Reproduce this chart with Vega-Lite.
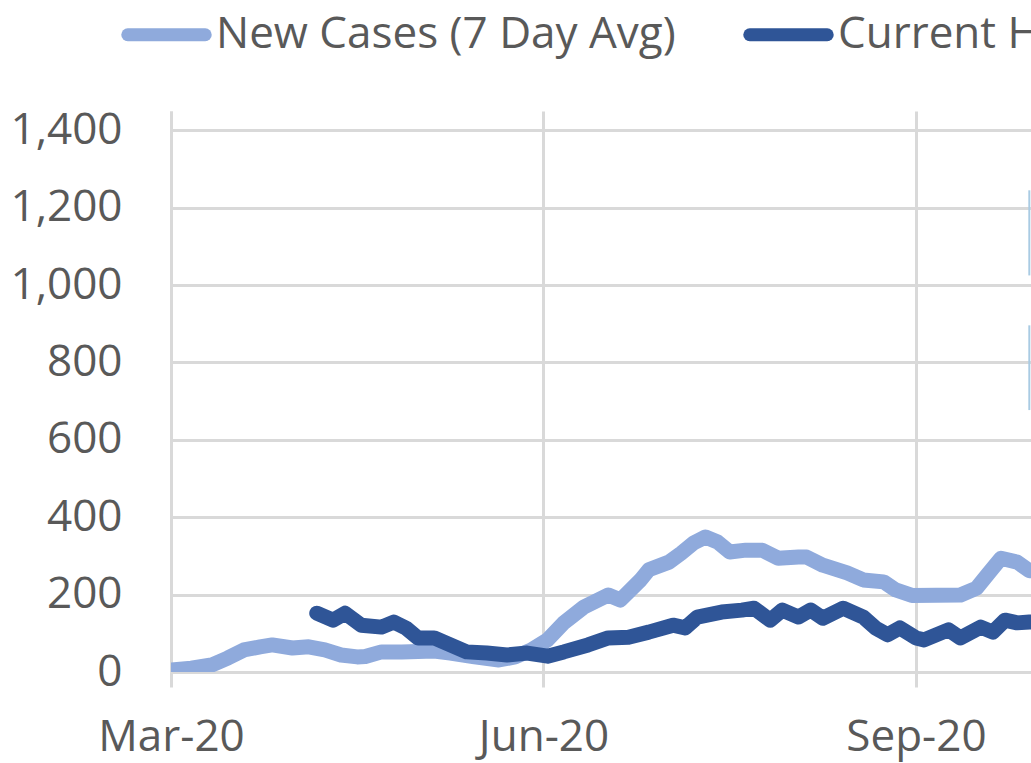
{
  "$schema": "https://vega.github.io/schema/vega-lite/v6.json",
  "autosize": "none",
  "width": 860,
  "height": 561,
  "padding": {"left": 171, "top": 111, "right": 0, "bottom": 91},
  "background": "white",
  "config": {
    "view": {"stroke": null},
    "font": "Open Sans",
    "axis": {"labelFont": "Open Sans", "labelColor": "#595959", "labelFontSize": 44, "gridColor": "#D9D9D9", "gridWidth": 3, "domainColor": "#D9D9D9", "domainWidth": 3, "tickColor": "#D9D9D9", "tickWidth": 3, "title": null},
    "legend": {"labelFont": "Open Sans", "labelColor": "#595959", "labelFontSize": 44}
  },
  "datasets": {
    "series": [
      {"date": "2020-03-01", "series": "New Cases (7 Day Avg)", "value": 5},
      {"date": "2020-03-06", "series": "New Cases (7 Day Avg)", "value": 10},
      {"date": "2020-03-11", "series": "New Cases (7 Day Avg)", "value": 18},
      {"date": "2020-03-15", "series": "New Cases (7 Day Avg)", "value": 36},
      {"date": "2020-03-19", "series": "New Cases (7 Day Avg)", "value": 57},
      {"date": "2020-03-23", "series": "New Cases (7 Day Avg)", "value": 65},
      {"date": "2020-03-26", "series": "New Cases (7 Day Avg)", "value": 70},
      {"date": "2020-03-31", "series": "New Cases (7 Day Avg)", "value": 62},
      {"date": "2020-04-04", "series": "New Cases (7 Day Avg)", "value": 65},
      {"date": "2020-04-08", "series": "New Cases (7 Day Avg)", "value": 57},
      {"date": "2020-04-12", "series": "New Cases (7 Day Avg)", "value": 44},
      {"date": "2020-04-16", "series": "New Cases (7 Day Avg)", "value": 39},
      {"date": "2020-04-18", "series": "New Cases (7 Day Avg)", "value": 40},
      {"date": "2020-04-22", "series": "New Cases (7 Day Avg)", "value": 52},
      {"date": "2020-04-27", "series": "New Cases (7 Day Avg)", "value": 52},
      {"date": "2020-05-05", "series": "New Cases (7 Day Avg)", "value": 54},
      {"date": "2020-05-09", "series": "New Cases (7 Day Avg)", "value": 49},
      {"date": "2020-05-15", "series": "New Cases (7 Day Avg)", "value": 39},
      {"date": "2020-05-21", "series": "New Cases (7 Day Avg)", "value": 31},
      {"date": "2020-05-25", "series": "New Cases (7 Day Avg)", "value": 39},
      {"date": "2020-05-29", "series": "New Cases (7 Day Avg)", "value": 57},
      {"date": "2020-06-02", "series": "New Cases (7 Day Avg)", "value": 83},
      {"date": "2020-06-06", "series": "New Cases (7 Day Avg)", "value": 127},
      {"date": "2020-06-11", "series": "New Cases (7 Day Avg)", "value": 168},
      {"date": "2020-06-17", "series": "New Cases (7 Day Avg)", "value": 199},
      {"date": "2020-06-20", "series": "New Cases (7 Day Avg)", "value": 186},
      {"date": "2020-06-25", "series": "New Cases (7 Day Avg)", "value": 238},
      {"date": "2020-06-27", "series": "New Cases (7 Day Avg)", "value": 264},
      {"date": "2020-07-02", "series": "New Cases (7 Day Avg)", "value": 284},
      {"date": "2020-07-05", "series": "New Cases (7 Day Avg)", "value": 307},
      {"date": "2020-07-08", "series": "New Cases (7 Day Avg)", "value": 333},
      {"date": "2020-07-11", "series": "New Cases (7 Day Avg)", "value": 349},
      {"date": "2020-07-14", "series": "New Cases (7 Day Avg)", "value": 336},
      {"date": "2020-07-17", "series": "New Cases (7 Day Avg)", "value": 310},
      {"date": "2020-07-21", "series": "New Cases (7 Day Avg)", "value": 315},
      {"date": "2020-07-25", "series": "New Cases (7 Day Avg)", "value": 315},
      {"date": "2020-07-29", "series": "New Cases (7 Day Avg)", "value": 294},
      {"date": "2020-08-03", "series": "New Cases (7 Day Avg)", "value": 297},
      {"date": "2020-08-05", "series": "New Cases (7 Day Avg)", "value": 297},
      {"date": "2020-08-09", "series": "New Cases (7 Day Avg)", "value": 276},
      {"date": "2020-08-15", "series": "New Cases (7 Day Avg)", "value": 256},
      {"date": "2020-08-19", "series": "New Cases (7 Day Avg)", "value": 238},
      {"date": "2020-08-24", "series": "New Cases (7 Day Avg)", "value": 233},
      {"date": "2020-08-27", "series": "New Cases (7 Day Avg)", "value": 212},
      {"date": "2020-08-31", "series": "New Cases (7 Day Avg)", "value": 198},
      {"date": "2020-09-12", "series": "New Cases (7 Day Avg)", "value": 199},
      {"date": "2020-09-16", "series": "New Cases (7 Day Avg)", "value": 217},
      {"date": "2020-09-19", "series": "New Cases (7 Day Avg)", "value": 256},
      {"date": "2020-09-22", "series": "New Cases (7 Day Avg)", "value": 294},
      {"date": "2020-09-26", "series": "New Cases (7 Day Avg)", "value": 284},
      {"date": "2020-09-29", "series": "New Cases (7 Day Avg)", "value": 262},
      {"date": "2020-10-02", "series": "New Cases (7 Day Avg)", "value": 262},
      {"date": "2020-04-06", "series": "Current Hospitalizations", "value": 152},
      {"date": "2020-04-10", "series": "Current Hospitalizations", "value": 134},
      {"date": "2020-04-13", "series": "Current Hospitalizations", "value": 152},
      {"date": "2020-04-17", "series": "Current Hospitalizations", "value": 121},
      {"date": "2020-04-22", "series": "Current Hospitalizations", "value": 116},
      {"date": "2020-04-25", "series": "Current Hospitalizations", "value": 129},
      {"date": "2020-04-28", "series": "Current Hospitalizations", "value": 114},
      {"date": "2020-05-01", "series": "Current Hospitalizations", "value": 88},
      {"date": "2020-05-05", "series": "Current Hospitalizations", "value": 88},
      {"date": "2020-05-09", "series": "Current Hospitalizations", "value": 70},
      {"date": "2020-05-13", "series": "Current Hospitalizations", "value": 52},
      {"date": "2020-05-18", "series": "Current Hospitalizations", "value": 49},
      {"date": "2020-05-23", "series": "Current Hospitalizations", "value": 44},
      {"date": "2020-05-28", "series": "Current Hospitalizations", "value": 49},
      {"date": "2020-06-02", "series": "Current Hospitalizations", "value": 41},
      {"date": "2020-06-06", "series": "Current Hospitalizations", "value": 52},
      {"date": "2020-06-12", "series": "Current Hospitalizations", "value": 70},
      {"date": "2020-06-17", "series": "Current Hospitalizations", "value": 88},
      {"date": "2020-06-22", "series": "Current Hospitalizations", "value": 90},
      {"date": "2020-06-27", "series": "Current Hospitalizations", "value": 103},
      {"date": "2020-07-03", "series": "Current Hospitalizations", "value": 121},
      {"date": "2020-07-06", "series": "Current Hospitalizations", "value": 114},
      {"date": "2020-07-09", "series": "Current Hospitalizations", "value": 142},
      {"date": "2020-07-15", "series": "Current Hospitalizations", "value": 155},
      {"date": "2020-07-20", "series": "Current Hospitalizations", "value": 160},
      {"date": "2020-07-23", "series": "Current Hospitalizations", "value": 165},
      {"date": "2020-07-27", "series": "Current Hospitalizations", "value": 134},
      {"date": "2020-07-30", "series": "Current Hospitalizations", "value": 160},
      {"date": "2020-08-03", "series": "Current Hospitalizations", "value": 142},
      {"date": "2020-08-06", "series": "Current Hospitalizations", "value": 160},
      {"date": "2020-08-09", "series": "Current Hospitalizations", "value": 139},
      {"date": "2020-08-14", "series": "Current Hospitalizations", "value": 165},
      {"date": "2020-08-19", "series": "Current Hospitalizations", "value": 142},
      {"date": "2020-08-22", "series": "Current Hospitalizations", "value": 114},
      {"date": "2020-08-25", "series": "Current Hospitalizations", "value": 96},
      {"date": "2020-08-28", "series": "Current Hospitalizations", "value": 114},
      {"date": "2020-09-01", "series": "Current Hospitalizations", "value": 88},
      {"date": "2020-09-03", "series": "Current Hospitalizations", "value": 83},
      {"date": "2020-09-09", "series": "Current Hospitalizations", "value": 109},
      {"date": "2020-09-12", "series": "Current Hospitalizations", "value": 88},
      {"date": "2020-09-17", "series": "Current Hospitalizations", "value": 116},
      {"date": "2020-09-20", "series": "Current Hospitalizations", "value": 103},
      {"date": "2020-09-23", "series": "Current Hospitalizations", "value": 134},
      {"date": "2020-09-26", "series": "Current Hospitalizations", "value": 127},
      {"date": "2020-09-29", "series": "Current Hospitalizations", "value": 129},
      {"date": "2020-10-02", "series": "Current Hospitalizations", "value": 130}
    ],
    "boxes": [
      {"date": "2020-09-29", "top": 1245, "bottom": 1025},
      {"date": "2020-09-29", "top": 896, "bottom": 677}
    ]
  },
  "encoding": {
    "x": {
      "field": "date", "type": "temporal",
      "scale": {"type": "utc", "domain": [{"year": 2020, "month": 3, "date": 1, "utc": true}, {"year": 2020, "month": 9, "date": 29, "hours": 10, "utc": true}]},
      "axis": {
        "values": [{"year": 2020, "month": 3, "date": 1, "utc": true}, {"year": 2020, "month": 6, "date": 1, "utc": true}, {"year": 2020, "month": 9, "date": 1, "utc": true}],
        "format": "%b-%y", "tickSize": 15, "labelPadding": 28, "labelFlush": false, "labelOverlap": false, "labelLimit": 400
      }
    }
  },
  "layer": [
    {
      "data": {"name": "series"},
      "mark": {"type": "line", "strokeWidth": 15, "strokeCap": "round", "strokeJoin": "round", "clip": true},
      "encoding": {
        "y": {
          "field": "value", "type": "quantitative",
          "scale": {"domain": [0, 1450], "nice": false},
          "axis": {"values": [0, 200, 400, 600, 800, 1000, 1200, 1400], "format": ",d", "ticks": false, "tickSize": 0, "labelPadding": 49}
        },
        "color": {
          "field": "series", "type": "nominal",
          "scale": {"domain": ["New Cases (7 Day Avg)", "Current Hospitalizations"], "range": ["#8FAADC", "#2F5597"]},
          "legend": {"orient": "none", "direction": "horizontal", "legendX": -50, "legendY": -122, "title": null, "symbolType": "stroke", "symbolSize": 6000, "symbolStrokeWidth": 13, "labelLimit": 900, "labelOffset": 4, "columnPadding": 47,
            "encode": {"symbols": {"update": {"strokeCap": {"value": "round"}}}}}
        },
        "order": {"field": "date", "type": "temporal"}
      }
    },
    {
      "data": {"name": "boxes"},
      "mark": {"type": "rule", "color": "#A9CBE3", "strokeWidth": 2},
      "encoding": {
        "y": {"field": "top", "type": "quantitative"},
        "y2": {"field": "bottom"}
      }
    }
  ]
}
